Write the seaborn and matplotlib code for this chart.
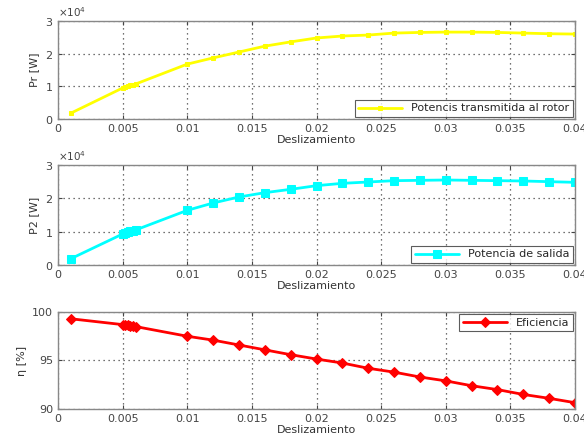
import matplotlib
matplotlib.use("Agg")
import matplotlib.pyplot as plt
import seaborn as sns
import numpy as np

slip = [0.001, 0.005, 0.0052, 0.0054, 0.0056, 0.0058, 0.006, 0.01, 0.012, 0.014, 0.016,
        0.018, 0.02, 0.022, 0.024, 0.026, 0.028, 0.03, 0.032, 0.034, 0.036, 0.038, 0.04]
p_rotor = [1800, 9500, 9800, 10000, 10300, 10500, 10700, 16800, 18700, 20500, 22300,
           23600, 24800, 25400, 25700, 26300, 26500, 26600, 26600, 26500, 26300, 26100, 26000]
p_out = [1900, 9300, 9600, 9800, 10100, 10300, 10500, 16400, 18600, 20400, 21700,
         22700, 23800, 24500, 24900, 25300, 25400, 25500, 25400, 25300, 25200, 25000, 24800]
eff = [99.3, 98.7, 98.66, 98.62, 98.58, 98.54, 98.5, 97.5, 97.1, 96.6, 96.1,
       95.6, 95.15, 94.74, 94.2, 93.8, 93.3, 92.9, 92.4, 92.0, 91.5, 91.1, 90.65]

ylabels = ["Pr [W]", "P2 [W]", "η [%]"]
legends = ["Potencis transmitida al rotor", "Potencia de salida", "Eficiencia"]
colors = ["#FFFF00", "#00FFFF", "#FF0000"]
markers = ["s", "s", "D"]
msizes = [3.5, 5.5, 5]
xticks = [0, 0.005, 0.01, 0.015, 0.02, 0.025, 0.03, 0.035, 0.04]
xticklabels = ["0", "0.005", "0.01", "0.015", "0.02", "0.025", "0.03", "0.035", "0.04"]

sns.set_style("white")
plt.rcParams['font.family'] = ['DejaVu Sans']
fig = plt.figure(figsize=(5.84, 4.36), dpi=100)
W, H = 584, 436
boxes = [(58, 21, 575, 119), (58, 165, 575, 265), (58, 312, 575, 409)]
series = [p_rotor, p_out, eff]
locs = ["lower right", "lower right", "upper right"]
for i in range(3):
    x0, y0, x1, y1 = boxes[i]
    ax = fig.add_axes([x0 / W, 1 - y1 / H, (x1 - x0) / W, (y1 - y0) / H])
    sns.lineplot(x=slip, y=series[i], ax=ax, color=colors[i], marker=markers[i],
                 markersize=msizes[i], markeredgecolor=colors[i], linewidth=2,
                 label=legends[i], sort=False)
    ax.set_xlim(0, 0.04)
    ax.set_xticks(xticks)
    ax.set_xticklabels(xticklabels)
    if i < 2:
        ax.set_ylim(0, 30000)
        ax.set_yticks([0, 10000, 20000, 30000])
        ax.ticklabel_format(style='sci', axis='y', scilimits=(4, 4), useMathText=True)
        ax.yaxis.get_offset_text().set_fontsize(7.5)
        ax.yaxis.get_offset_text().set_color("#444444")
    else:
        ax.set_ylim(90, 100)
        ax.set_yticks([90, 95, 100])
    ax.grid(True, linestyle=(0, (1, 3)), color="#444444", linewidth=0.9)
    ax.tick_params(direction="in", labelsize=8, colors="#444444", length=3,
                   top=True, right=True, bottom=True, left=True)
    for s in ax.spines.values():
        s.set_color("#888888")
        s.set_linewidth(1)
    ax.set_xlabel("Deslizamiento", fontsize=8, color="#333333", labelpad=1)
    ax.set_ylabel(ylabels[i], fontsize=8, color="#333333", labelpad=4)
    leg = ax.legend(loc=locs[i], fontsize=8, frameon=True, fancybox=False,
                    borderaxespad=0.2, handlelength=4, borderpad=0.3)
    leg.get_frame().set_edgecolor("#333333")
    leg.get_frame().set_linewidth(0.8)

fig.savefig("out.png", dpi=100)
